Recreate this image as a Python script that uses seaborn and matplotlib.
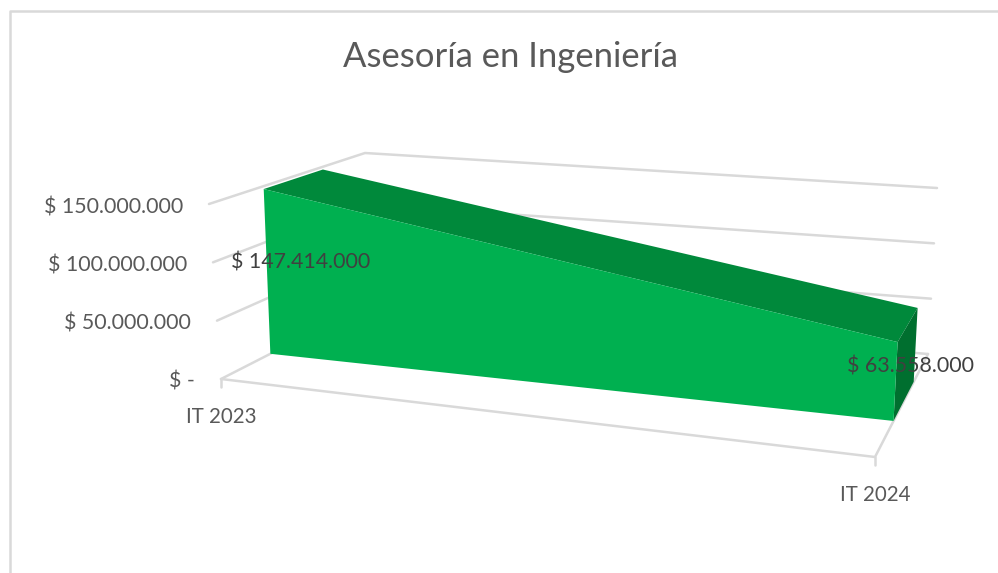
import matplotlib
matplotlib.use("Agg")
import matplotlib.pyplot as plt
import numpy as np
import pandas as pd
import seaborn as sns

title = "Asesoría en Ingeniería"
categories = ["IT 2023", "IT 2024"]
values = [147414000, 63558000]
value_labels = ["$ 147.414.000", "$ 63.558.000"]
grid_values = [0, 50000000, 100000000, 150000000]
grid_labels = ["$ -", "$ 50.000.000", "$ 100.000.000", "$ 150.000.000"]

sns.set_theme(style="white")
plt.rcParams["font.family"] = ["Lato", "DejaVu Sans"]

# corners of the 3D box on the page, indexed [category][value][depth]
box = np.array([
    [[[221, 379], [362, 307]], [[209, 204], [365, 153]]],
    [[[875, 457], [928, 354]], [[885, 260], [937, 188]]],
], dtype=float)
v_max = grid_values[-1]
area_front = 0.35
area_back = 0.73


def project(cat, value, depth):
    t = value / v_max
    low = box[cat][0][0] * (1 - depth) + box[cat][0][1] * depth
    high = box[cat][1][0] * (1 - depth) + box[cat][1][1] * depth
    return low * (1 - t) + high * t


fig = plt.figure(figsize=(9.98, 5.73), dpi=100)
ax = fig.add_axes([0, 0, 1, 1])

# walls and floor
rows = []
for g in grid_values:
    pts = [project(0, g, 0), project(0, g, 1), project(1, g, 1)]
    for p in pts:
        rows.append({"seg": f"grid{g}", "px": p[0], "py": p[1]})
for c in range(2):
    p = project(c, 0, 0)
    rows.append({"seg": f"tick{c}", "px": p[0], "py": p[1]})
    rows.append({"seg": f"tick{c}", "px": p[0], "py": p[1] + 8})
for p in [project(0, 0, 0), project(1, 0, 0), project(1, 0, 1)]:
    rows.append({"seg": "floor", "px": p[0], "py": p[1]})
grid_df = pd.DataFrame(rows)

sns.lineplot(data=grid_df, x="px", y="py", units="seg", estimator=None, sort=False,
             color="#D9D9D9", linewidth=1.8, legend=False, ax=ax, zorder=1)

# area as a solid block
front = [project(0, 0, area_front), project(0, values[0], area_front),
         project(1, values[1], area_front), project(1, 0, area_front)]
top = [project(0, values[0], area_front), project(0, values[0], area_back),
       project(1, values[1], area_back), project(1, values[1], area_front)]
side = [project(1, 0, area_front), project(1, values[1], area_front),
        project(1, values[1], area_back), project(1, 0, area_back)]
ax.fill(*zip(*top), color="#00893B", lw=0, zorder=2)
ax.fill(*zip(*side), color="#006F2F", lw=0, zorder=2)
ax.fill(*zip(*front), color="#00B050", lw=0, zorder=3)

# labels
for g, lab in zip(grid_values, grid_labels):
    p = project(0, g, 0)
    ax.text(p[0] - 26, p[1] + 3, lab, ha="right", va="center", fontsize=15.4, color="#595959", zorder=5)
for c, lab in enumerate(categories):
    p = project(c, 0, 0)
    ax.text(p[0], p[1] + 38, lab, ha="center", va="center", fontsize=14.8, color="#595959", zorder=5)
for c, lab in enumerate(value_labels):
    p = project(c, values[c] / 2, (area_front + area_back) / 2)
    ax.text(p[0] + 5, p[1] + 3, lab, ha="center", va="center", fontsize=15.4, color="#404040", zorder=5)
ax.text(510.5, 57, title, ha="center", va="center", fontsize=24.9, color="#595959", zorder=5)

# chart frame cut by the screenshot
ax.plot([10.5, 10.5, 998], [573, 11, 11], color="#D9D9D9", lw=1.8, zorder=1)

ax.set_xlim(0, 998)
ax.set_ylim(573, 0)
ax.axis("off")

fig.savefig("out.png", dpi=100)
